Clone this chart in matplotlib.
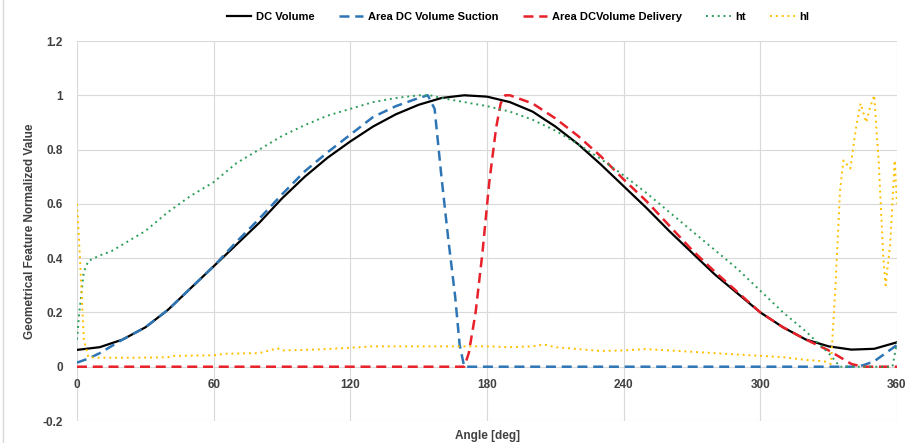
import matplotlib
matplotlib.use("Agg")
import matplotlib.pyplot as plt
from matplotlib.lines import Line2D

# DC Volume
dc_ang = [0, 10, 20, 30, 40, 50, 60, 70, 80, 90, 100, 110, 120, 130, 140, 150, 160, 170,
          180, 190, 200, 210, 220, 230, 240, 250, 260, 270, 280, 290, 300, 310, 320, 330,
          340, 350, 360]
dc_val = [0.062, 0.072, 0.10, 0.145, 0.21, 0.29, 0.37, 0.45, 0.53, 0.62, 0.70, 0.77, 0.83,
          0.885, 0.93, 0.965, 0.99, 1.0, 0.995, 0.975, 0.94, 0.885, 0.82, 0.745, 0.665,
          0.585, 0.50, 0.42, 0.34, 0.27, 0.20, 0.145, 0.10, 0.075, 0.063, 0.066, 0.09]

# Area DC Volume Suction
suc_ang = [0, 5, 10, 15, 20, 30, 40, 50, 60, 70, 80, 90, 100, 110, 120, 130, 140, 150,
           154, 157, 160, 163, 166, 168, 170, 340, 345, 350, 355, 360]
suc_val = [0.015, 0.03, 0.05, 0.075, 0.10, 0.145, 0.21, 0.29, 0.37, 0.46, 0.545, 0.635,
           0.72, 0.79, 0.855, 0.92, 0.96, 0.99, 1.0, 0.95, 0.70, 0.47, 0.26, 0.08, 0.0,
           0.0, 0.005, 0.02, 0.05, 0.08]

# Area DC Volume Delivery
del_ang = [0, 170, 172, 175, 178, 181, 184, 186, 188, 190, 200, 210, 220, 230, 240, 250,
           260, 270, 280, 290, 300, 310, 320, 330, 335, 340, 345, 360]
del_val = [0.0, 0.0, 0.05, 0.20, 0.42, 0.68, 0.88, 0.97, 1.0, 1.0, 0.97, 0.915, 0.85,
           0.775, 0.69, 0.61, 0.52, 0.43, 0.35, 0.275, 0.20, 0.145, 0.10, 0.06, 0.035,
           0.01, 0.0, 0.0]

# ht
ht_ang = [0, 1, 3, 5, 10, 15, 20, 30, 40, 50, 60, 70, 80, 90, 100, 110, 120, 130, 140,
          150, 155, 160, 170, 180, 190, 200, 210, 220, 230, 240, 250, 260, 270, 280, 290,
          300, 310, 320, 330, 335, 358, 360]
ht_val = [0.1, 0.2, 0.35, 0.39, 0.41, 0.425, 0.45, 0.50, 0.57, 0.63, 0.68, 0.75, 0.80,
          0.85, 0.89, 0.925, 0.95, 0.975, 0.99, 1.0, 1.0, 0.99, 0.975, 0.96, 0.94, 0.91,
          0.87, 0.82, 0.765, 0.705, 0.64, 0.57, 0.50, 0.43, 0.36, 0.28, 0.20, 0.13, 0.05,
          0.0, 0.0, 0.09]

# hl
hl_ang = [0, 1, 3, 5, 10, 20, 25, 40, 42, 60, 65, 80, 88, 90, 100, 110, 120, 130, 140,
          150, 160, 170, 180, 190, 200, 205, 210, 220, 230, 240, 250, 260, 270, 280, 290,
          300, 310, 320, 328, 331, 333, 335, 336.5, 339.5, 342, 344, 346.5, 348, 350, 352,
          354, 355, 357, 359, 360]
hl_val = [0.6, 0.45, 0.1, 0.035, 0.033, 0.033, 0.033, 0.035, 0.04, 0.042, 0.048, 0.05,
          0.068, 0.06, 0.062, 0.065, 0.07, 0.075, 0.075, 0.075, 0.075, 0.075, 0.075, 0.072,
          0.075, 0.082, 0.072, 0.065, 0.058, 0.06, 0.065, 0.06, 0.055, 0.05, 0.045, 0.04,
          0.035, 0.025, 0.02, 0.01, 0.3, 0.65, 0.76, 0.73, 0.88, 0.97, 0.9, 0.95, 1.0,
          0.75, 0.4, 0.3, 0.45, 0.76, 0.6]

x_ticks = [0, 60, 120, 180, 240, 300, 360]
y_ticks = [-0.2, 0, 0.2, 0.4, 0.6, 0.8, 1, 1.2]
y_tick_labels = ["-0.2", "0", "0.2", "0.4", "0.6", "0.8", "1", "1.2"]

plt.rcParams['font.family'] = ['Liberation Sans', 'DejaVu Sans']
txt_col = '#404040'

fig = plt.figure(figsize=(9.16, 4.43), dpi=100)
ax = fig.add_axes([77/916, 1 - 421/443, 820/916, 380/443])

ax.plot(dc_ang, dc_val, color='black', lw=1.6, label='DC Volume')
ax.plot(suc_ang, suc_val, color='#2E75B6', lw=1.8, ls=(0, (4, 2.3)), label='Area DC Volume Suction')
ax.plot(del_ang, del_val, color='#E8202A', lw=1.8, ls=(0, (4, 2.3)), label='Area DCVolume Delivery')
ax.plot(ht_ang, ht_val, color='#2E9E5B', lw=1.4, ls=(0, (1, 2)), label='ht')
ax.plot(hl_ang, hl_val, color='#FFC000', lw=1.4, ls=(0, (1, 2)), label='hl')

ax.set_xlim(0, 360)
ax.set_ylim(-0.2, 1.2)
ax.set_xticks(x_ticks)
ax.set_yticks(y_ticks)
ax.set_yticklabels(y_tick_labels)
ax.grid(True, color='#d9d9d9', lw=0.8)
ax.set_axisbelow(True)
for s in ['top', 'right', 'left']:
    ax.spines[s].set_visible(False)
ax.spines['bottom'].set_position(('data', 0))
ax.spines['bottom'].set_visible(False)
ax.tick_params(axis='x', length=0, pad=9, labelsize=8.5, labelcolor=txt_col)
ax.tick_params(axis='y', length=0, pad=10, labelsize=8.5, labelcolor=txt_col)
for lab in ax.get_xticklabels() + ax.get_yticklabels():
    lab.set_fontweight('bold')

fig.text(487/916, 1 - 436/443, 'Angle [deg]', ha='center', va='center',
         fontsize=8.5, fontweight='bold', color=txt_col)
fig.text(30/916, 1 - 231/443, 'Geometrical Feature Normalized Value', ha='center',
         va='center', rotation=90, fontsize=8.5, fontweight='bold', color=txt_col)

fig.legend(loc='center', bbox_to_anchor=(518/916, 1 - 17/443), ncol=5, frameon=False,
           handlelength=2.2, columnspacing=2.2, handletextpad=0.4,
           prop={'weight': 'bold', 'size': 8})

fig.add_artist(Line2D([3/916, 3/916], [0, 1], color='#d9d9d9', lw=1, transform=fig.transFigure))

fig.savefig('out.png', dpi=100)
